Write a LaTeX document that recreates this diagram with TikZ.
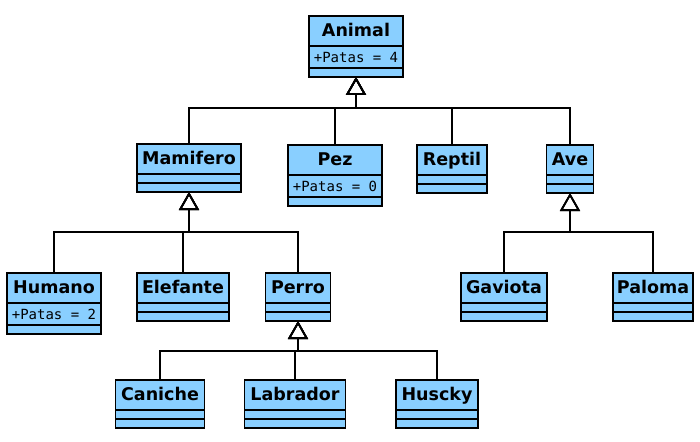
\documentclass[tikz,border=0pt]{standalone}
\usepackage{fontspec}
\setmainfont{DejaVu Sans}
\newfontfamily\attrfont{DejaVu Sans Mono}
\usetikzlibrary{positioning,arrows.meta}
\definecolor{clsBlue}{RGB}{137,207,255}

\begin{document}
\begin{tikzpicture}[x=1pt,y=-1pt,
    clsHead/.style={draw,fill=clsBlue,line width=1.8pt,outer sep=0pt,inner sep=0pt,minimum height=30pt,text height=12.8pt,text depth=2pt,font=\fontsize{17.5}{19}\selectfont\bfseries},
    clsAttr/.style={draw,fill=clsBlue,line width=1.8pt,outer sep=0pt,inner sep=0pt,minimum height=22pt,font=\attrfont\fontsize{14}{16}\selectfont},
    clsEmpty/.style={draw,fill=clsBlue,line width=1.8pt,outer sep=0pt,inner sep=0pt,minimum height=9pt},
    inhLine/.style={line width=1.8pt,-{Triangle[open,length=18pt,width=20pt]}},
]
\useasboundingbox (0,0) rectangle (700,441);
% classes with an attribute
\node[clsHead,minimum width=94pt] (animal) at (356,31) {Animal};
\node[clsAttr,minimum width=94pt,below=0pt of animal] (animal-attr) {+Patas = 4};
\node[clsEmpty,minimum width=94pt,below=0pt of animal-attr] (animal-ops) {};
\node[clsHead,minimum width=94pt] (pez) at (335,160) {Pez};
\node[clsAttr,minimum width=94pt,below=0pt of pez] (pez-attr) {+Patas = 0};
\node[clsEmpty,minimum width=94pt,below=0pt of pez-attr] (pez-ops) {};
\node[clsHead,minimum width=94pt] (humano) at (54,288) {Humano};
\node[clsAttr,minimum width=94pt,below=0pt of humano] (humano-attr) {+Patas = 2};
\node[clsEmpty,minimum width=94pt,below=0pt of humano-attr] (humano-ops) {};
% classes with empty compartments
\foreach \nm/\txt/\cx/\cy/\w in {mamifero/Mamifero/189/159/104, reptil/Reptil/452/160/70,
    ave/Ave/570/160/47, elefante/Elefante/183/288/92, perro/Perro/298/288/65,
    gaviota/Gaviota/504/288/86, paloma/Paloma/653/288/80, caniche/Caniche/160/395/89,
    labrador/Labrador/295/395/101, huscky/Huscky/437/395/82}{
  \node[clsHead,minimum width=\w pt] (\nm) at (\cx,\cy) {\txt};
  \node[clsEmpty,minimum width=\w pt,below=0pt of \nm] (\nm-attr) {};
  \node[clsEmpty,minimum width=\w pt,below=0pt of \nm-attr] (\nm-ops) {};
}
% inheritance
\coordinate (animalBar) at (356,108);
\coordinate (mamiferoBar) at (189,232);
\coordinate (perroBar) at (298,351);
\coordinate (aveBar) at (570,232);
\foreach \c in {mamifero,pez,reptil,ave}
  \draw[inhLine] (\c.north) |- (animalBar) -- (animal-ops.south);
\foreach \c in {humano,elefante,perro}
  \draw[inhLine] (\c.north) |- (mamiferoBar) -- (mamifero-ops.south);
\foreach \c in {caniche,labrador,huscky}
  \draw[inhLine] (\c.north) |- (perroBar) -- (perro-ops.south);
\foreach \c in {gaviota,paloma}
  \draw[inhLine] (\c.north) |- (aveBar) -- (ave-ops.south);
\end{tikzpicture}
\end{document}
